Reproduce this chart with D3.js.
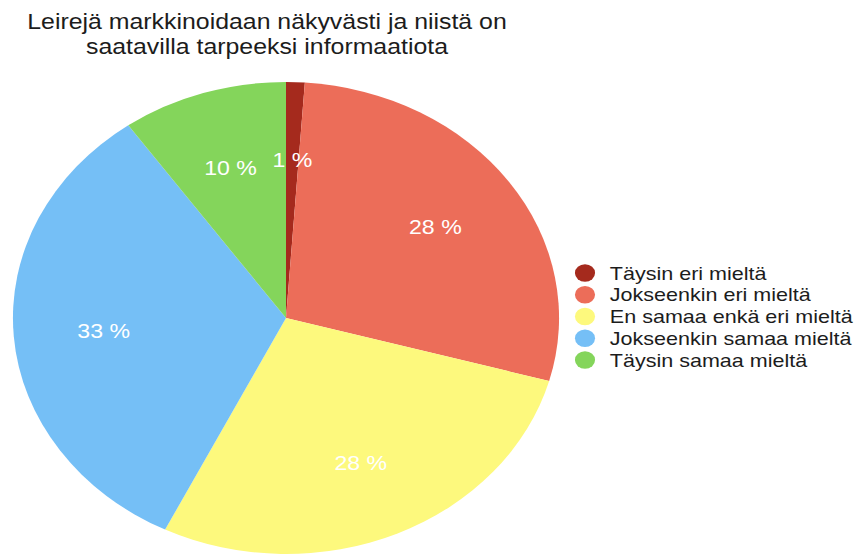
<!DOCTYPE html>
<html>
<head>
<meta charset="utf-8">
<script src="https://cdn.jsdelivr.net/npm/d3@7"></script>
<style>
  body { margin: 0; background: #fff; }
  svg text { font-family: 'Liberation Sans', Arial, Helvetica, sans-serif; }
</style>
</head>
<body>
<svg id="chart" width="859" height="554"></svg>
<script>
const titleLines = ['Leirejä markkinoidaan näkyvästi ja niistä on', 'saatavilla tarpeeksi informaatiota']
const categories = ['Täysin eri mieltä', 'Jokseenkin eri mieltä', 'En samaa enkä eri mieltä', 'Jokseenkin samaa mieltä', 'Täysin samaa mieltä']
const values = [1.1, 28.2, 28, 32.9, 9.8]
const labels = ['1 %', '28 %', '28 %', '33 %', '10 %']
const colors = ['#a52a1d', '#ec6d59', '#fdf97d', '#75bff6', '#84d55b']

// the original picture is stretched sideways, so everything gets the same x scale
const stretch = 1.157
const radius = 236
const cx = 286
const cy = 318

const svg = d3.select('#chart')

svg.append('g')
  .attr('transform', `translate(267,0) scale(${stretch},1)`)
  .selectAll('text').data(titleLines)
  .enter().append('text')
  .attr('x', 0)
  .attr('y', (d, i) => 29 + i * 25)
  .attr('text-anchor', 'middle')
  .attr('font-size', 21.5)
  .attr('fill', '#1c1c1c')
  .text(d => d)

const pie = d3.pie().sort(null).value(d => d)
const arcs = pie(values)
const arc = d3.arc().innerRadius(0).outerRadius(radius)
const labelArc = d3.arc().innerRadius(radius * 0.67).outerRadius(radius * 0.67)

const chart = svg.append('g')
  .attr('transform', `translate(${cx},${cy}) scale(${stretch},1)`)

chart.selectAll('path').data(arcs)
  .enter().append('path')
  .attr('d', arc)
  .attr('fill', (d, i) => colors[i])

chart.selectAll('.lbl').data(arcs)
  .enter().append('text')
  .attr('class', 'lbl')
  .attr('transform', d => `translate(${labelArc.centroid(d)})`)
  .attr('text-anchor', 'middle')
  .attr('dy', '0.36em')
  .attr('font-size', 20)
  .attr('fill', '#fff')
  .text((d, i) => labels[i])

const legend = svg.append('g')
  .attr('transform', `translate(585,273) scale(${stretch},1)`)

const y = d3.scalePoint().domain(categories).range([0, 87])

const item = legend.selectAll('g').data(categories)
  .enter().append('g')
  .attr('transform', d => `translate(0,${y(d)})`)

item.append('circle')
  .attr('r', 8.7)
  .attr('fill', (d, i) => colors[i])

item.append('text')
  .attr('x', 21.5)
  .attr('dy', '0.36em')
  .attr('font-size', 18.6)
  .attr('fill', '#1c1c1c')
  .text(d => d)
</script>
</body>
</html>
